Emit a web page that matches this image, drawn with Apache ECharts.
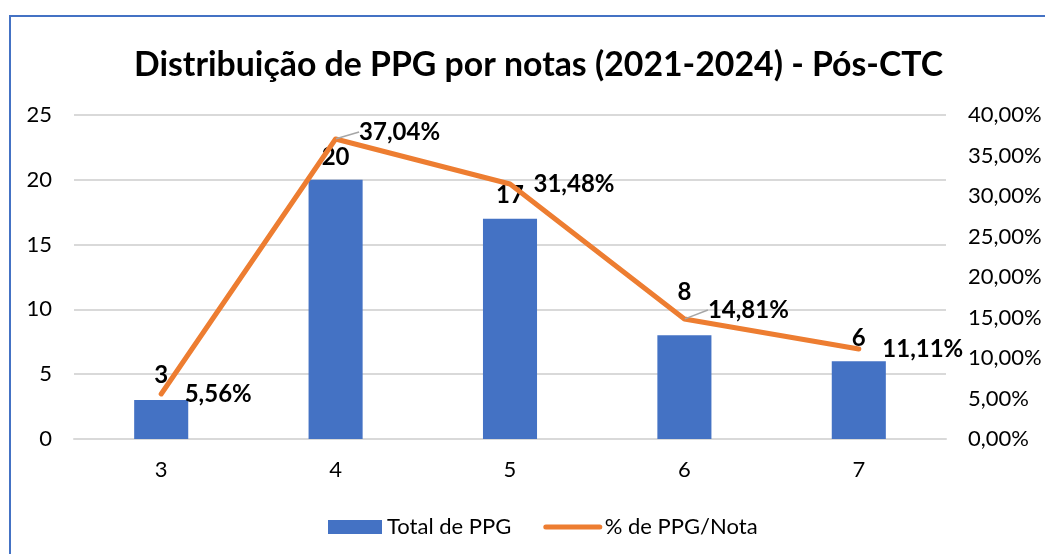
<!DOCTYPE html>
<html>
<head>
<meta charset="utf-8">
<script src="https://cdn.jsdelivr.net/npm/echarts@6/dist/echarts.min.js"></script>
<style>
  html, body { margin: 0; padding: 0; background: #fff; }
  #frame { position: absolute; left: 9px; top: 15px; width: 1100px; height: 600px; border: 2px solid #4472C4; box-sizing: border-box; }
  #chart { position: absolute; left: 0; top: 0; width: 1045px; height: 554px; }
</style>
</head>
<body>
<div id="frame"></div>
<div id="chart"></div>
<script>
// Notas CAPES dos programas e distribuição
const notas = ['3', '4', '5', '6', '7'];
const totalPPG = [3, 20, 17, 8, 6];
const pctPPG = [5.56, 37.04, 31.48, 14.81, 11.11];
const pctTicks = [0, 5, 10, 15, 20, 25, 30, 35, 40];

const FONT = 'Lato, "Open Sans", sans-serif';
const fmtPct = v => v.toFixed(2).replace('.', ',') + '%';

// deslocamentos verticais dos rótulos
const barLabelShift = [-2, 0, 0, -20, 0];
const lineLabelShift = [1, 0, 2, 0, 3];
// rótulos com linha de chamada (deslocados via labelLayout)
const leaderShift = { 1: -7, 3: -9 };

const chart = echarts.init(document.getElementById('chart'), null, { renderer: 'canvas' });

const labelFont = { fontFamily: FONT, fontSize: 24, fontWeight: 'bold', color: '#000' };

const option = {
  animation: false,
  textStyle: { fontFamily: FONT },
  title: {
    text: 'Distribuição de PPG por notas (2021-2024) - Pós-CTC',
    left: 129,
    top: 43,
    textStyle: { fontFamily: FONT, fontSize: 33.8, fontWeight: 'bold', color: '#000' }
  },
  grid: { left: 74, right: 99, top: 115, bottom: 115, containLabel: false },
  legend: {
    left: 323,
    top: 511,
    itemWidth: 54,
    itemHeight: 14,
    itemGap: 32,
    textStyle: { fontFamily: FONT, fontSize: 22, color: '#000' },
    data: [
      { name: 'Total de PPG', icon: 'rect' },
      {
        name: '% de PPG/Nota',
        itemStyle: { opacity: 0 },
        lineStyle: { width: 5, cap: 'round' }
      }
    ]
  },
  xAxis: {
    type: 'category',
    data: notas,
    axisTick: { show: false },
    axisLine: { lineStyle: { color: '#d9d9d9', width: 2 } },
    axisLabel: { fontFamily: FONT, fontSize: 22, color: '#000', margin: 20 }
  },
  yAxis: [
    {
      type: 'value',
      min: 0, max: 25, interval: 5,
      axisLine: { show: false },
      axisTick: { show: false },
      splitLine: { lineStyle: { color: '#d9d9d9', width: 2 } },
      axisLabel: { fontFamily: FONT, fontSize: 22, color: '#000', margin: 22 }
    },
    {
      type: 'value',
      min: pctTicks[0], max: pctTicks[pctTicks.length - 1], interval: 5,
      axisLine: { show: false },
      axisTick: { show: false },
      splitLine: { show: false },
      axisLabel: { fontFamily: FONT, fontSize: 22, color: '#000', margin: 22, formatter: fmtPct }
    }
  ],
  series: [
    {
      name: 'Total de PPG',
      type: 'bar',
      data: totalPPG.map((v, i) => ({
        value: v,
        label: { offset: [0, barLabelShift[i]] }
      })),
      barWidth: '31%',
      itemStyle: { color: '#4472C4' },
      label: Object.assign({ show: true, position: 'top', distance: 11 }, labelFont),
      z: 2
    },
    {
      name: '% de PPG/Nota',
      type: 'line',
      yAxisIndex: 1,
      data: pctPPG,
      symbol: 'none',
      lineStyle: { color: '#ED7D31', width: 5, cap: 'round', join: 'round' },
      itemStyle: { color: '#ED7D31' },
      z: 3
    },
    {
      // rótulos de porcentagem dos pontos da linha
      name: 'rotulos-pct',
      type: 'scatter',
      yAxisIndex: 1,
      data: pctPPG.map((v, i) => ({
        value: v,
        label: { offset: [0, lineLabelShift[i]] },
        labelLine: { show: i in leaderShift }
      })),
      symbolSize: 1,
      itemStyle: { color: 'rgba(0,0,0,0)', opacity: 1 },
      silent: true,
      label: Object.assign({
        show: true,
        position: 'right',
        distance: 23,
        formatter: p => fmtPct(p.value)
      }, labelFont),
      labelLine: { show: false, lineStyle: { color: '#a6a6a6', width: 1.5 } },
      labelLayout: p => (p.dataIndex in leaderShift) ? { dy: leaderShift[p.dataIndex] } : {},
      z: 4
    }
  ]
};

chart.setOption(option);
</script>
</body>
</html>
